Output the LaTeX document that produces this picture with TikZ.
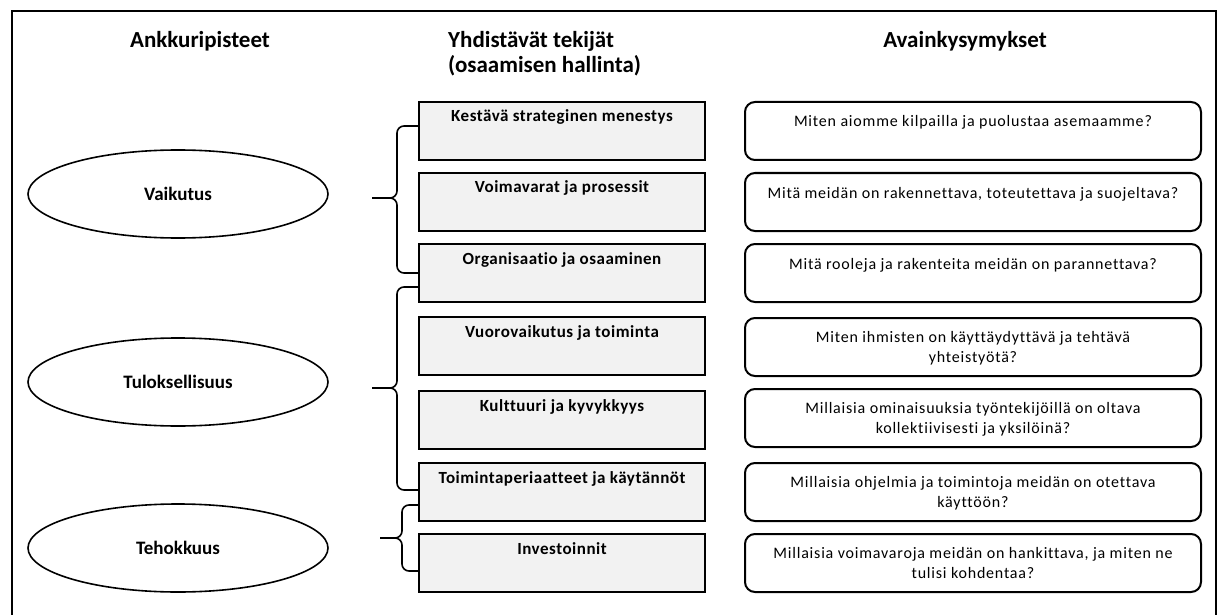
\documentclass[tikz,border=0pt]{standalone}
\usepackage{fontspec}
\setmainfont[Ligatures=NoCommon]{Carlito}
\newfontfamily\qfont[LetterSpace=5,Ligatures=NoCommon]{Carlito}
\newfontfamily\ffont[LetterSpace=3,Ligatures=NoCommon]{Carlito}
\usetikzlibrary{shapes.geometric}
\definecolor{boxgray}{HTML}{F2F2F2}
\begin{document}
\begin{tikzpicture}[x=1pt,y=-1pt,
  head/.style={font=\bfseries\fontsize{23}{25}\selectfont, align=left, inner sep=0pt},
  anchorell/.style={ellipse, draw, line width=1.6pt, minimum width=300pt, minimum height=88pt,
    font=\bfseries\fontsize{19}{22}\selectfont, inner sep=0pt},
  factor/.style={draw, line width=2pt, fill=boxgray, minimum width=286pt,
    text height=18pt, text depth=36pt, inner ysep=2pt, inner xsep=0pt,
    font=\ffont\bfseries\fontsize{17}{19}\selectfont},
  qbox/.style={draw, rounded corners=10pt, line width=2pt, minimum width=456pt,
    minimum height=58pt, inner sep=0pt},
  qtext/.style={font=\qfont\fontsize{16}{20}\selectfont, align=center, inner sep=0pt, anchor=base},
  brace/.style={line width=1.6pt, rounded corners=7pt}
]
\useasboundingbox (0,0) rectangle (1221,615);

% open frame
\draw[line width=2.4pt] (12,640) -- (12,11) -- (1216,11) -- (1216,640);

% column headings
\node[head, anchor=base] (h1) at (200,48) {Ankkuripisteet};
\node[head, anchor=north west] (h2) at (448,31) {Yhdistävät tekijät\\(osaamisen hallinta)};
\node[head, anchor=base] (h3) at (965,48) {Avainkysymykset};

% anchor points
\node[anchorell] (a1) at (178,194) {Vaikutus};
\node[anchorell] (a2) at (178,382) {Tuloksellisuus};
\node[anchorell] (a3) at (178,548) {Tehokkuus};

% connecting factors
\node[factor] (m1) at (562,131) {Kestävä strateginen menestys};
\node[factor] (m2) at (562,202) {Voimavarat ja prosessit};
\node[factor] (m3) at (562,273) {Organisaatio ja osaaminen};
\node[factor] (m4) at (562,346) {Vuorovaikutus ja toiminta};
\node[factor] (m5) at (562,420) {Kulttuuri ja kyvykkyys};
\node[factor] (m6) at (562,492) {Toimintaperiaatteet ja käytännöt};
\node[factor] (m7) at (562,563) {Investoinnit};

% key questions (base anchor sits on the last line of each text)
\node[qbox] (q1) at (973,131) {};
\node[qbox] (q2) at (973,202) {};
\node[qbox] (q3) at (973,273) {};
\node[qbox] (q4) at (973,347) {};
\node[qbox] (q5) at (973,418) {};
\node[qbox] (q6) at (973,492) {};
\node[qbox] (q7) at (973,563) {};
\node[qtext] (t1) at ([yshift=-26pt]q1.north) {Miten aiomme kilpailla ja puolustaa asemaamme?};
\node[qtext] (t2) at ([yshift=-26pt]q2.north) {Mitä meidän on rakennettava, toteutettava ja suojeltava?};
\node[qtext] (t3) at ([yshift=-26pt]q3.north) {Mitä rooleja ja rakenteita meidän on parannettava?};
\node[qtext] (t4) at ([yshift=-45pt]q4.north) {Miten ihmisten on käyttäydyttävä ja tehtävä\\yhteistyötä?};
\node[qtext] (t5) at ([yshift=-45pt]q5.north) {Millaisia ominaisuuksia työntekijöillä on oltava\\kollektiivisesti ja yksilöinä?};
\node[qtext] (t6) at ([yshift=-45pt]q6.north) {Millaisia ohjelmia ja toimintoja meidän on otettava\\käyttöön?};
\node[qtext] (t7) at ([yshift=-45pt]q7.north) {Millaisia voimavaroja meidän on hankittava, ja miten ne\\tulisi kohdentaa?};

% braces grouping the factors
\coordinate (b1) at (372,198);
\coordinate (b2) at (372,388);
\coordinate (b3) at (380,538);
\draw[brace] ([yshift=5pt]m1.west) -| ([xshift=25pt]b1) -- (b1);
\draw[brace] (b1) -- ([xshift=25pt]b1) |- (m3.west);
\draw[brace] ([yshift=-14pt]m3.west) -| ([xshift=25pt]b2) -- (b2);
\draw[brace] (b2) -- ([xshift=25pt]b2) |- ([yshift=2pt]m6.west);
\draw[brace] ([yshift=-13pt]m6.west) -| ([xshift=22pt]b3) -- (b3);
\draw[brace] (b3) -- ([xshift=22pt]b3) |- ([yshift=-8pt]m7.west);
\end{tikzpicture}
\end{document}
